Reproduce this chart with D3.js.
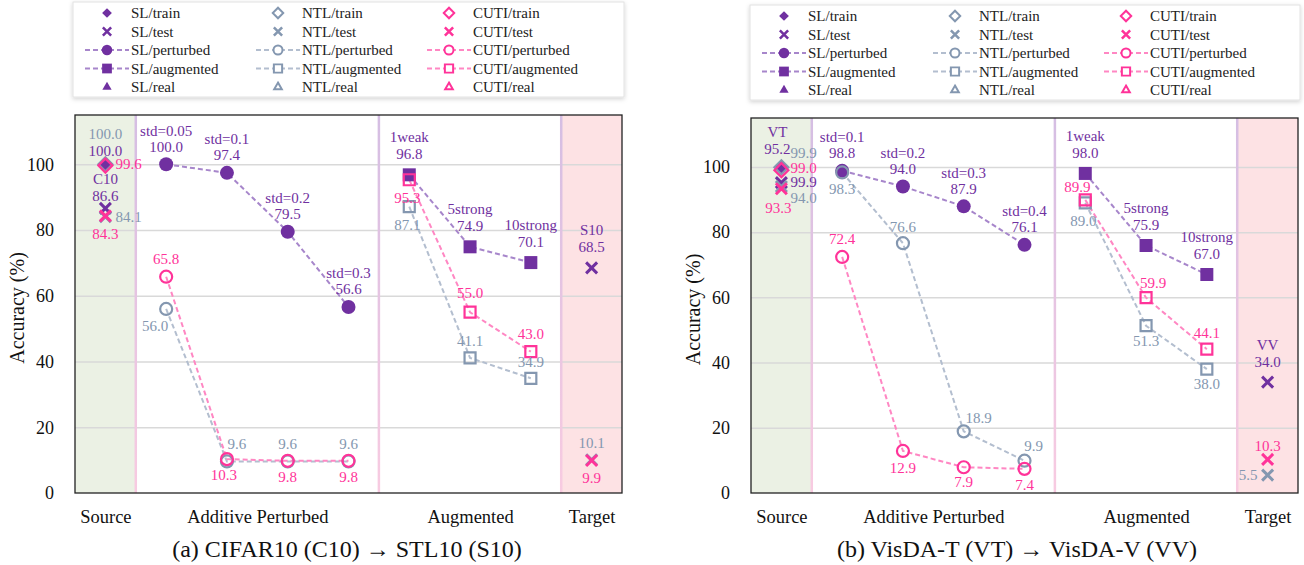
<!DOCTYPE html>
<html>
<head>
<meta charset="utf-8">
<script src="https://cdn.jsdelivr.net/npm/d3@7"></script>
<style>
  body { margin: 0; background: #fff; }
  svg, text { font-family: 'Liberation Serif', 'DejaVu Serif', 'Noto Serif', Tinos, serif; }
</style>
</head>
<body>
<svg id="chart" width="1304" height="565"></svg>
<script>
// ---- data ----
const methods = ['SL', 'NTL', 'CUTI'];
const legendKinds = ['train', 'test', 'perturbed', 'augmented', 'real'];
const groupLabels = ['Source', 'Additive Perturbed', 'Augmented', 'Target'];
const augNames = ['1weak', '5strong', '10strong'];
const yTicks = [0, 20, 40, 60, 80, 100];

// (a) CIFAR10 -> STL10, values ordered SL, NTL, CUTI
const c10Domains = ['C10', 'S10'];
const c10Train = [100.0, 100.0, 99.6];
const c10Test = [86.6, 84.1, 84.3];
const c10StdNames = ['std=0.05', 'std=0.1', 'std=0.2', 'std=0.3'];
const c10PerturbSL = [100.0, 97.4, 79.5, 56.6];
const c10PerturbNTL = [56.0, 9.6, 9.6, 9.6];
const c10PerturbCUTI = [65.8, 10.3, 9.8, 9.8];
const c10AugSL = [96.8, 74.9, 70.1];
const c10AugNTL = [87.1, 41.1, 34.9];
const c10AugCUTI = [95.3, 55.0, 43.0];
const c10Target = [68.5, 10.1, 9.9];

// (b) VisDA-T -> VisDA-V
const vtDomains = ['VT', 'VV'];
const vtTrain = [99.9, 99.9, 99.0];
const vtTest = [95.2, 94.0, 93.3];
const vtStdNames = ['std=0.1', 'std=0.2', 'std=0.3', 'std=0.4'];
const vtPerturbSL = [98.8, 94.0, 87.9, 76.1];
const vtPerturbNTL = [98.3, 76.6, 18.9, 9.9];
const vtPerturbCUTI = [72.4, 12.9, 7.9, 7.4];
const vtAugSL = [98.0, 75.9, 67.0];
const vtAugNTL = [89.0, 51.3, 38.0];
const vtAugCUTI = [89.9, 59.9, 44.1];
const vtTarget = [34.0, 5.5, 10.3];

// ---- label placement (offset from marker: dx, dy, anchor) ----
const c10Place = {
  domain: [[0, 14], [0, -38]],
  train: [[0, -14], [0, -31], [10, -2, 'start']],
  test: [[0, -13], [10, 0, 'start'], [0, 18]],
  perturbSL: [-34, -18],
  perturbNTL: [[-11, 17], [10, -18], [0, -18], [0, -18]],
  perturbCUTI: [[0, -18], [-3, 16], [0, 16], [0, 16]],
  augSL: [-38, -21],
  augNTL: [[-2, 18], [0, -17], [0, -17]],
  augCUTI: [[-2, 18], [0, -19], [0, -18]],
  target: [[0, -21], [0, -17], [0, 17]]
};
const vtPlace = {
  domain: [[-4, -35], [0, -37]],
  train: [[9, 15, 'start'], [9, -14, 'start'], [9, -2, 'start']],
  test: [[-4, -34], [9, 11, 'start'], [-3, 19]],
  perturbSL: [-34, -18],
  perturbNTL: [[0, 16], [0, -16], [15, -14], [9, -15]],
  perturbCUTI: [[0, -18], [0, 17], [0, 15], [0, 16]],
  augSL: [-38, -21],
  augNTL: [[-2, 18], [0, 15], [0, 15]],
  augCUTI: [[-8, -13], [7, -15], [0, -16]],
  target: [[0, -20], [-10, 0, 'end'], [0, -14]]
};

const colors = { SL: '#7030A0', NTL: '#8497B0', CUTI: '#FF3399' };
const lineColors = { SL: '#A786CB', NTL: '#B3BECF', CUTI: '#FF87C3' };
const serif = "'Liberation Serif', 'DejaVu Serif', 'Noto Serif', Tinos, serif";
const fmt = d3.format('.1f');

const svg = d3.select('#chart').attr('font-family', serif);
const defs = svg.append('defs');
defs.append('filter').attr('id', 'shadow')
  .attr('x', '-5%').attr('y', '-10%').attr('width', '110%').attr('height', '125%')
  .append('feDropShadow')
  .attr('dx', 0).attr('dy', 1.5).attr('stdDeviation', 2)
  .attr('flood-color', '#000').attr('flood-opacity', 0.18);
const grad = defs.append('linearGradient').attr('id', 'divGrad')
  .attr('x1', 0).attr('y1', 0).attr('x2', 0).attr('y2', 1);
grad.append('stop').attr('offset', '0%').attr('stop-color', '#D5BEE3');
grad.append('stop').attr('offset', '100%').attr('stop-color', '#F8CBE1');

// draw one marker; s scales it down for the legend
function marker(g, kind, m, cx, cy, s, hollowFill) {
  const c = colors[m];
  const filled = m === 'SL';
  let type, size, rot = 0, sw = 2.2 * Math.min(1, s + 0.15);
  if (kind === 'train') {
    const h = (filled ? 6.5 : 7) * s;
    type = d3.symbolSquare; size = 2 * h * h; rot = 45;
  } else if (kind === 'test') {
    const h = 5.5 * s;
    type = d3.symbolTimes; size = Math.pow(h / 0.6189, 2) + 1.7;
    sw = 3 * Math.min(1, s + 0.1);
  } else if (kind === 'perturbed') {
    const r = (filled ? 7 : 6) * s;
    type = d3.symbolCircle; size = Math.PI * r * r;
  } else if (kind === 'augmented') {
    const a = (filled ? 13 : 11) * s;
    type = d3.symbolSquare; size = a * a;
  } else {
    const a = (filled ? 11 : 9) * s;
    type = d3.symbolTriangle; size = a * a * 0.55;
  }
  const p = g.append('path')
    .attr('d', d3.symbol(type, size)())
    .attr('transform', `translate(${cx},${cy}) rotate(${rot})`);
  if (kind === 'test') {
    p.attr('fill', 'none').attr('stroke', c).attr('stroke-width', sw);
  } else if (filled) {
    p.attr('fill', c);
  } else {
    p.attr('fill', hollowFill).attr('stroke', c).attr('stroke-width', sw);
  }
}

function drawLegend(box) {
  const lg = svg.append('g').attr('transform', `translate(${box[0]},${box[1]})`);
  lg.append('rect')
    .attr('width', box[2]).attr('height', box[3])
    .attr('fill', '#fff').attr('stroke', '#e2e2e2').attr('filter', 'url(#shadow)');
  const cols = [34, 205, 376];
  methods.forEach((m, ci) => {
    const mx = cols[ci];
    legendKinds.forEach((k, ri) => {
      const ry = 11 + ri * 18.5;
      if (k === 'perturbed' || k === 'augmented') {
        lg.append('line')
          .attr('x1', mx - 22).attr('x2', mx + 22).attr('y1', ry).attr('y2', ry)
          .attr('stroke', lineColors[m]).attr('stroke-width', 2).attr('stroke-dasharray', '5,3');
      }
      marker(lg, k, m, mx, ry, 0.75, '#fff');
      lg.append('text')
        .attr('x', mx + 24).attr('y', ry).attr('dy', '0.35em')
        .attr('font-family', serif)
        .attr('font-size', 15).attr('fill', '#222')
        .text(`${m}/${k}`);
    });
  });
}

function drawPanel(p) {
  const g = svg.append('g');
  const x = d3.scaleLinear().domain([-0.5, 8.5]).range(p.xRange);
  const y = d3.scaleLinear().domain([0, 115]).range(p.yRange);
  const [x0, x1] = p.xRange;
  const [yb, yt] = p.yRange;

  // region shading
  g.append('rect').attr('x', x(-0.5)).attr('y', yt)
    .attr('width', x(0.5) - x(-0.5)).attr('height', yb - yt).attr('fill', '#EBF1E4');
  g.append('rect').attr('x', x(7.5)).attr('y', yt)
    .attr('width', x(8.5) - x(7.5)).attr('height', yb - yt).attr('fill', '#FDE2E4');

  // gridlines
  g.append('g').attr('transform', `translate(${x0},0)`)
    .call(d3.axisLeft(y).tickValues(yTicks.slice(1)).tickSize(-(x1 - x0)).tickFormat(''))
    .call(a => a.select('.domain').remove())
    .selectAll('line').attr('stroke', '#D9D9D9').attr('stroke-width', 1.5);

  // group dividers
  [0.5, 4.5, 7.5].forEach(v => {
    g.append('rect').attr('x', x(v) - 1.25).attr('y', yt)
      .attr('width', 2.5).attr('height', yb - yt).attr('fill', 'url(#divGrad)');
  });

  g.append('rect').attr('x', x0).attr('y', yt)
    .attr('width', x1 - x0).attr('height', yb - yt)
    .attr('fill', 'none').attr('stroke', '#222').attr('stroke-width', 1.3);

  // y axis
  g.append('g').attr('transform', `translate(${x0},0)`)
    .call(d3.axisLeft(y).tickValues(yTicks).tickSize(0).tickPadding(21))
    .call(a => a.select('.domain').remove())
    .attr('font-family', serif).attr('font-size', 18)
    .selectAll('text').attr('fill', '#111');
  g.append('text')
    .attr('transform', `translate(${p.yTitleX},${(yt + yb) / 2 + 4}) rotate(-90)`)
    .attr('text-anchor', 'middle').attr('dy', '0.35em')
    .attr('font-size', 20).attr('fill', '#111')
    .text('Accuracy (%)');

  // x axis: group names
  g.append('g').attr('transform', `translate(0,${yb})`)
    .call(d3.axisBottom(x).tickValues([0, 2.5, 6, 8]).tickSize(0).tickFormat((d, i) => groupLabels[i]))
    .call(a => a.select('.domain').remove())
    .attr('font-family', serif).attr('font-size', 18.5)
    .selectAll('text').attr('y', 24).attr('dy', '0.35em').attr('fill', '#111');

  g.append('text')
    .attr('x', p.captionX).attr('y', 549).attr('dy', '0.35em')
    .attr('text-anchor', 'middle').attr('font-size', 24).attr('fill', '#111')
    .text(p.caption);

  // dashed lines
  const line = d3.line().x(d => x(d[0])).y(d => y(d[1]));
  methods.forEach(m => {
    [[p.perturb[m], 1], [p.aug[m], 5]].forEach(([vals, start]) => {
      g.append('path')
        .datum(vals.map((v, k) => [start + k, v]))
        .attr('d', line)
        .attr('fill', 'none').attr('stroke', lineColors[m])
        .attr('stroke-width', 2).attr('stroke-dasharray', '5,3');
    });
  });

  // markers
  methods.forEach((m, mi) => {
    marker(g, 'train', m, x(0), y(p.train[mi]), 1, 'none');
  });
  methods.forEach((m, mi) => {
    marker(g, 'test', m, x(0), y(p.test[mi]), 1, 'none');
    marker(g, 'test', m, x(8), y(p.target[mi]), 1, 'none');
  });
  methods.forEach(m => {
    p.perturb[m].forEach((v, k) => marker(g, 'perturbed', m, x(1 + k), y(v), 1, 'none'));
    p.aug[m].forEach((v, k) => marker(g, 'augmented', m, x(5 + k), y(v), 1, 'none'));
  });

  // labels
  const label = (txt, m, xi, v, off) => {
    g.append('text')
      .attr('x', x(xi) + off[0]).attr('y', y(v) + off[1]).attr('dy', '0.35em')
      .attr('text-anchor', off[2] || 'middle')
      .attr('font-family', serif)
      .attr('font-size', 15).attr('fill', colors[m])
      .text(txt);
  };
  const pl = p.place;
  label(p.domains[0], 'SL', 0, p.train[0], pl.domain[0]);
  label(p.domains[1], 'SL', 8, p.target[0], pl.domain[1]);
  methods.forEach((m, mi) => {
    label(fmt(p.train[mi]), m, 0, p.train[mi], pl.train[mi]);
    label(fmt(p.test[mi]), m, 0, p.test[mi], pl.test[mi]);
    label(fmt(p.target[mi]), m, 8, p.target[mi], pl.target[mi]);
  });
  p.perturb.SL.forEach((v, k) => {
    label(p.stdNames[k], 'SL', 1 + k, v, [0, pl.perturbSL[0]]);
    label(fmt(v), 'SL', 1 + k, v, [0, pl.perturbSL[1]]);
  });
  p.aug.SL.forEach((v, k) => {
    label(augNames[k], 'SL', 5 + k, v, [0, pl.augSL[0]]);
    label(fmt(v), 'SL', 5 + k, v, [0, pl.augSL[1]]);
  });
  ['NTL', 'CUTI'].forEach(m => {
    p.perturb[m].forEach((v, k) => label(fmt(v), m, 1 + k, v, pl['perturb' + m][k]));
    p.aug[m].forEach((v, k) => label(fmt(v), m, 5 + k, v, pl['aug' + m][k]));
  });

  drawLegend(p.legendBox);
}

drawPanel({
  xRange: [75, 622], yRange: [493, 115], yTitleX: 17, captionX: 347,
  caption: '(a) CIFAR10 (C10) \u2192 STL10 (S10)',
  legendBox: [73, 2, 551, 95],
  domains: c10Domains, stdNames: c10StdNames,
  train: c10Train, test: c10Test, target: c10Target,
  perturb: { SL: c10PerturbSL, NTL: c10PerturbNTL, CUTI: c10PerturbCUTI },
  aug: { SL: c10AugSL, NTL: c10AugNTL, CUTI: c10AugCUTI },
  place: c10Place
});

drawPanel({
  xRange: [751, 1298], yRange: [493, 118], yTitleX: 693, captionX: 1017,
  caption: '(b) VisDA-T (VT) \u2192 VisDA-V (VV)',
  legendBox: [750, 5, 550, 95],
  domains: vtDomains, stdNames: vtStdNames,
  train: vtTrain, test: vtTest, target: vtTarget,
  perturb: { SL: vtPerturbSL, NTL: vtPerturbNTL, CUTI: vtPerturbCUTI },
  aug: { SL: vtAugSL, NTL: vtAugNTL, CUTI: vtAugCUTI },
  place: vtPlace
});
</script>
</body>
</html>
